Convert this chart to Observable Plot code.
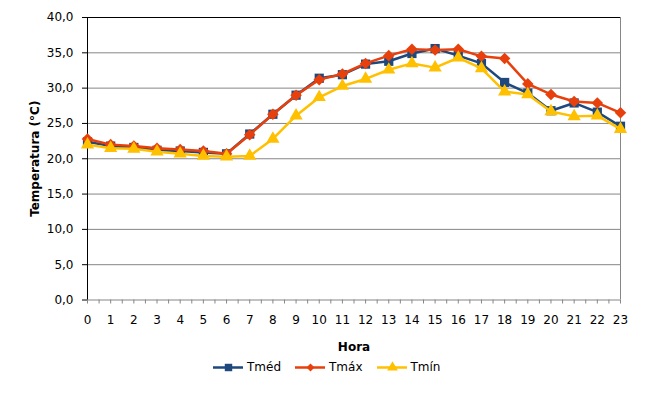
<!DOCTYPE html>
<html>
<head>
<meta charset="utf-8">
<script src="https://cdn.jsdelivr.net/npm/d3@7"></script>
<script src="https://cdn.jsdelivr.net/npm/@observablehq/plot@0.6"></script>
<style>
  html, body { margin: 0; padding: 0; background: #fff; }
  #wrap { position: relative; width: 669px; height: 395px; font-family: "DejaVu Sans", Verdana, sans-serif; }
  #legend { position: absolute; left: 213px; top: 358.5px; display: flex; align-items: center; font-family: "DejaVu Sans", Verdana, sans-serif; font-size: 12px; color: #000; }
  #legend .item { display: flex; align-items: center; margin-right: 14px; }
  #legend svg { margin-right: 4px; display: block; }
</style>
</head>
<body>
<div id="wrap"></div>
<script>
const hours = [0,1,2,3,4,5,6,7,8,9,10,11,12,13,14,15,16,17,18,19,20,21,22,23];
const tmed = [22.4,21.8,21.6,21.2,21.1,20.9,20.7,23.5,26.3,29.0,31.4,31.9,33.4,33.8,34.9,35.6,34.6,33.5,30.8,29.3,26.8,27.9,26.6,24.6];
const tmax = [22.8,22.0,21.8,21.5,21.3,21.1,20.7,23.4,26.3,29.0,31.2,32.0,33.5,34.6,35.5,35.4,35.5,34.5,34.2,30.6,29.1,28.1,27.9,26.5];
const tmin = [22.0,21.5,21.4,21.0,20.7,20.4,20.3,20.4,22.8,26.1,28.7,30.3,31.3,32.6,33.5,32.9,34.3,32.8,29.5,29.1,26.7,26.0,26.1,24.2];
const seriesNames = ["Tméd", "Tmáx", "Tmín"];
const seriesColors = ["#1F497D", "#E8400C", "#FFC000"];
const seriesSymbols = ["square", "diamond2", "triangle"];
const seriesR = [5.2, 5.2, 4.9];
const legendR = [4.2, 3.6, 4.0];
const yTicks = [0,5,10,15,20,25,30,35,40];
const gridLines = [5,10,15,20,25,30,35];
const xTicks = d3.range(0, 23.001, 0.5);

const seriesValues = [tmed, tmax, tmin];
const fmt = d => d.toFixed(1).replace(".", ",");

const marks = [
  Plot.ruleY(gridLines, {stroke: "#868686", strokeWidth: 1}),
  Plot.ruleY([40], {stroke: "#000", strokeWidth: 1}),
  Plot.ruleX([23], {stroke: "#868686", strokeWidth: 1}),
  Plot.axisX({ticks: xTicks, tickFormat: d => Number.isInteger(d) ? String(d) : "", tickSize: 4, tickPadding: 11, stroke: "#868686", fill: "#000", fontSize: 12, label: null}),
  Plot.ruleY([0], {stroke: "#868686", strokeWidth: 1}),
  Plot.axisY({ticks: yTicks, tickFormat: fmt, tickSize: 5, tickPadding: 9, stroke: "#000", fill: "#000", fontSize: 12, label: null}),
  Plot.ruleX([0], {stroke: "#000", strokeWidth: 1}),
  Plot.text(["Temperatura (°C)"], {frameAnchor: "left", dx: -52, rotate: -90, textAnchor: "middle", fontWeight: "bold", fontSize: 12, fill: "#000"}),
  Plot.text(["Hora"], {frameAnchor: "bottom", dy: 51, fontWeight: "bold", fontSize: 12, fill: "#000"})
];

seriesValues.forEach((vals, i) => {
  const data = hours.map((h, j) => ({h, v: vals[j]}));
  marks.push(Plot.line(data, {x: "h", y: "v", stroke: seriesColors[i], strokeWidth: 2.5}));
  marks.push(Plot.dot(data, {x: "h", y: "v", symbol: seriesSymbols[i], r: seriesR[i], fill: seriesColors[i], stroke: "none"}));
});

const chart = Plot.plot({
  width: 669,
  height: 355,
  marginLeft: 87,
  marginRight: 49,
  marginTop: 17,
  marginBottom: 55.5,
  style: {fontFamily: "'DejaVu Sans', Verdana, sans-serif", fontSize: "12px", background: "#fff", overflow: "visible", color: "#000"},
  x: {domain: [0, 23]},
  y: {domain: [0, 40]},
  marks
});

const wrap = document.getElementById("wrap");
wrap.appendChild(chart);

const legend = document.createElement("div");
legend.id = "legend";
seriesNames.forEach((name, i) => {
  const item = document.createElement("div");
  item.className = "item";
  const sw = Plot.plot({
    width: 30, height: 16, margin: 0,
    x: {domain: [0, 1], axis: null}, y: {domain: [0, 1], axis: null},
    marks: [
      Plot.ruleY([0.5], {x1: 0, x2: 1, stroke: seriesColors[i], strokeWidth: 2.5}),
      Plot.dot([{x: 0.5, y: 0.5}], {x: "x", y: "y", symbol: seriesSymbols[i], r: legendR[i], fill: seriesColors[i]})
    ]
  });
  item.appendChild(sw);
  const t = document.createElement("span");
  t.textContent = name;
  item.appendChild(t);
  legend.appendChild(item);
});
wrap.appendChild(legend);
</script>
</body>
</html>
